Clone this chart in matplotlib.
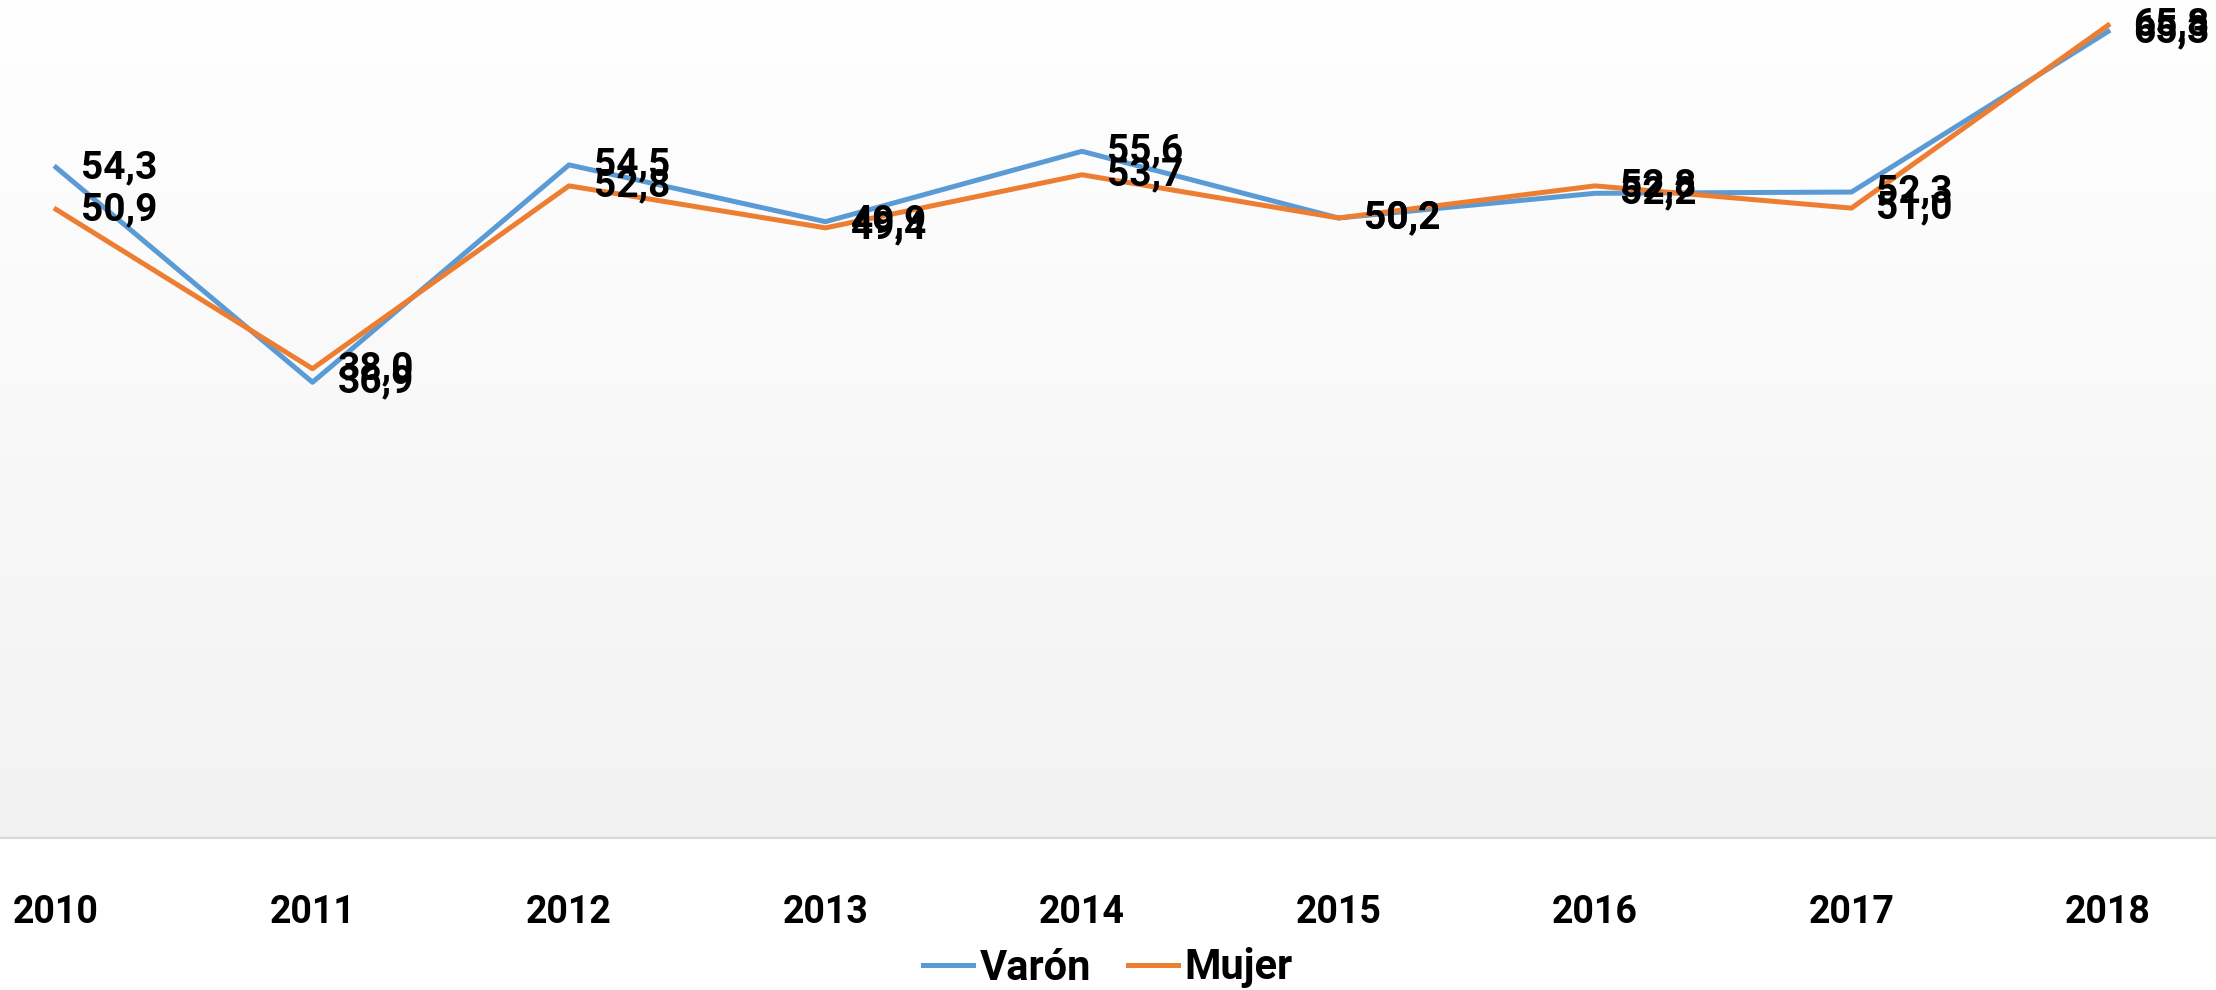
import matplotlib.pyplot as plt
import numpy as np

plt.rcParams['font.family'] = ['Roboto', 'DejaVu Sans']

# datos
anios = ['2010', '2011', '2012', '2013', '2014', '2015', '2016', '2017', '2018']
varon = [54.3, 36.9, 54.5, 49.9, 55.6, 50.2, 52.2, 52.3, 65.3]
mujer = [50.9, 38.0, 52.8, 49.4, 53.7, 50.2, 52.8, 51.0, 65.8]

fig = plt.figure(figsize=(22.16, 9.9), dpi=100)
ax = fig.add_axes([0, 1 - 838 / 990, 1, 838 / 990])

x = np.arange(len(anios))

# fondo degradado del area de trazado
grad = np.linspace(1.0, 0.949, 256).reshape(-1, 1)
ax.imshow(np.dstack([grad, grad, grad]), aspect='auto', extent=[0, 1, 0, 1],
          transform=ax.transAxes, zorder=0)

ax.plot(x, varon, color='#5B9BD5', lw=3.6, label='Varón', zorder=3)
ax.plot(x, mujer, color='#ED7D31', lw=3.6, label='Mujer', zorder=3)

# etiquetas de datos a la derecha de cada punto
for serie in (varon, mujer):
    for i, v in enumerate(serie):
        ax.annotate(f'{v:.1f}'.replace('.', ','), xy=(i, v), xytext=(18, 0),
                    textcoords='offset points', va='center', ha='left',
                    fontsize=28, fontweight='semibold', color='black', zorder=4)

ax.set_xlim(-56 / 256.5, 8 + (2216 - 2108) / 256.5)
ax.set_ylim(0, 67.85)
ax.set_xticks(x)
ax.set_xticklabels(anios, fontsize=27, fontweight='semibold')
ax.tick_params(axis='x', length=0, pad=40)
ax.set_yticks([])
for s in ['top', 'right', 'left']:
    ax.spines[s].set_visible(False)
ax.spines['bottom'].set_color('#d9d9d9')
ax.spines['bottom'].set_linewidth(1.5)

fig.legend(loc='center', bbox_to_anchor=(0.5, 1 - 968 / 990), ncol=2, frameon=False,
           handlelength=1.2, handletextpad=0.15, columnspacing=0.9,
           prop={'size': 30, 'weight': 'semibold'})

fig.savefig('out.png', dpi=100)
